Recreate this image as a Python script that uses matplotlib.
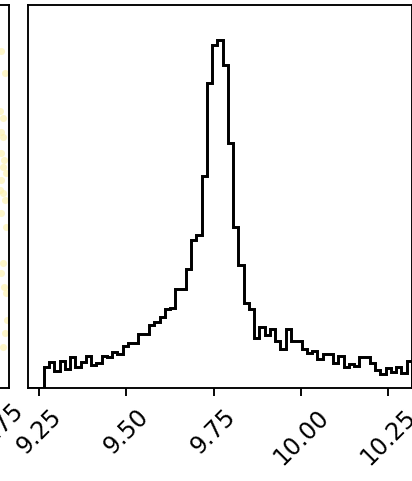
import numpy as np
import matplotlib
matplotlib.use("Agg")
import matplotlib.pyplot as plt

# ---- data ----
x_range = [9.2185, 10.318]
counts = [0, 0, 0,
          21, 26, 17, 27, 19, 31, 21, 26, 32, 23, 25, 32, 31, 36, 34, 42, 45, 45,
          54, 54, 63, 66, 71, 79, 80, 99, 99, 119, 148, 153,
          212, 306, 344, 349, 324, 246,
          161, 123, 85, 79, 50, 61, 53, 59, 47, 39, 59, 47, 47, 39, 35, 37, 29,
          34, 34, 25, 32, 21, 24, 22, 31, 31, 25, 18, 14, 20, 16, 21, 15, 27]
xticks = [9.25, 9.50, 9.75, 10.00, 10.25]
xtick_labels = ["9.25", "9.50", "9.75", "10.00", "10.25"]

# neighbouring 2-D panel (only its right edge is visible)
left_xlim = [-0.2, 0.77]
left_xticks = [0.0, 0.25, 0.50, 0.75]
left_xtick_labels = ["0.00", "0.25", "0.50", "0.75"]
pts_x = [0.751, 0.760, 0.747, 0.754, 0.751, 0.756, 0.749, 0.757, 0.754, 0.762,
         0.751, 0.747, 0.756, 0.760, 0.751, 0.762, 0.756, 0.751, 0.757, 0.762,
         0.764, 0.760, 0.754]
pts_y = [10.187, 10.124, 10.015, 9.995, 9.952, 9.938, 9.892, 9.872, 9.852, 9.835,
         9.815, 9.786, 9.777, 9.757, 9.720, 9.680, 9.577, 9.548, 9.508, 9.491,
         9.413, 9.376, 9.336]

W, H, DPI = 413, 481, 170
fig = plt.figure(figsize=(W / DPI, H / DPI), dpi=DPI)

bottom = 93 / H
height = 383 / H

# main diagonal histogram panel
ax = fig.add_axes([28 / W, bottom, 384 / W, height])
edges = np.linspace(x_range[0], x_range[1], len(counts) + 1)
ax.stairs(counts, edges, color="k", lw=1.25, baseline=0)
ax.set_xlim(x_range)
ax.set_ylim(0, 1.1 * max(counts))
ax.set_yticks([])
ax.set_xticks(xticks)
ax.set_xticklabels(xtick_labels, rotation=45, ha="center")
ax.tick_params(axis="x", labelsize=10)

# left neighbour panel
axl = fig.add_axes([-375 / W, bottom, 384 / W, height])
axl.scatter(pts_x, pts_y, s=9, color="#fdf0a6", alpha=0.6, linewidths=0)
axl.set_xlim(left_xlim)
axl.set_ylim(x_range)
axl.set_yticks([])
axl.set_xticks(left_xticks)
axl.set_xticklabels(left_xtick_labels, rotation=45, ha="center")
axl.tick_params(axis="x", labelsize=10, length=0, pad=4.5)

fig.savefig("out.png", dpi=DPI)
